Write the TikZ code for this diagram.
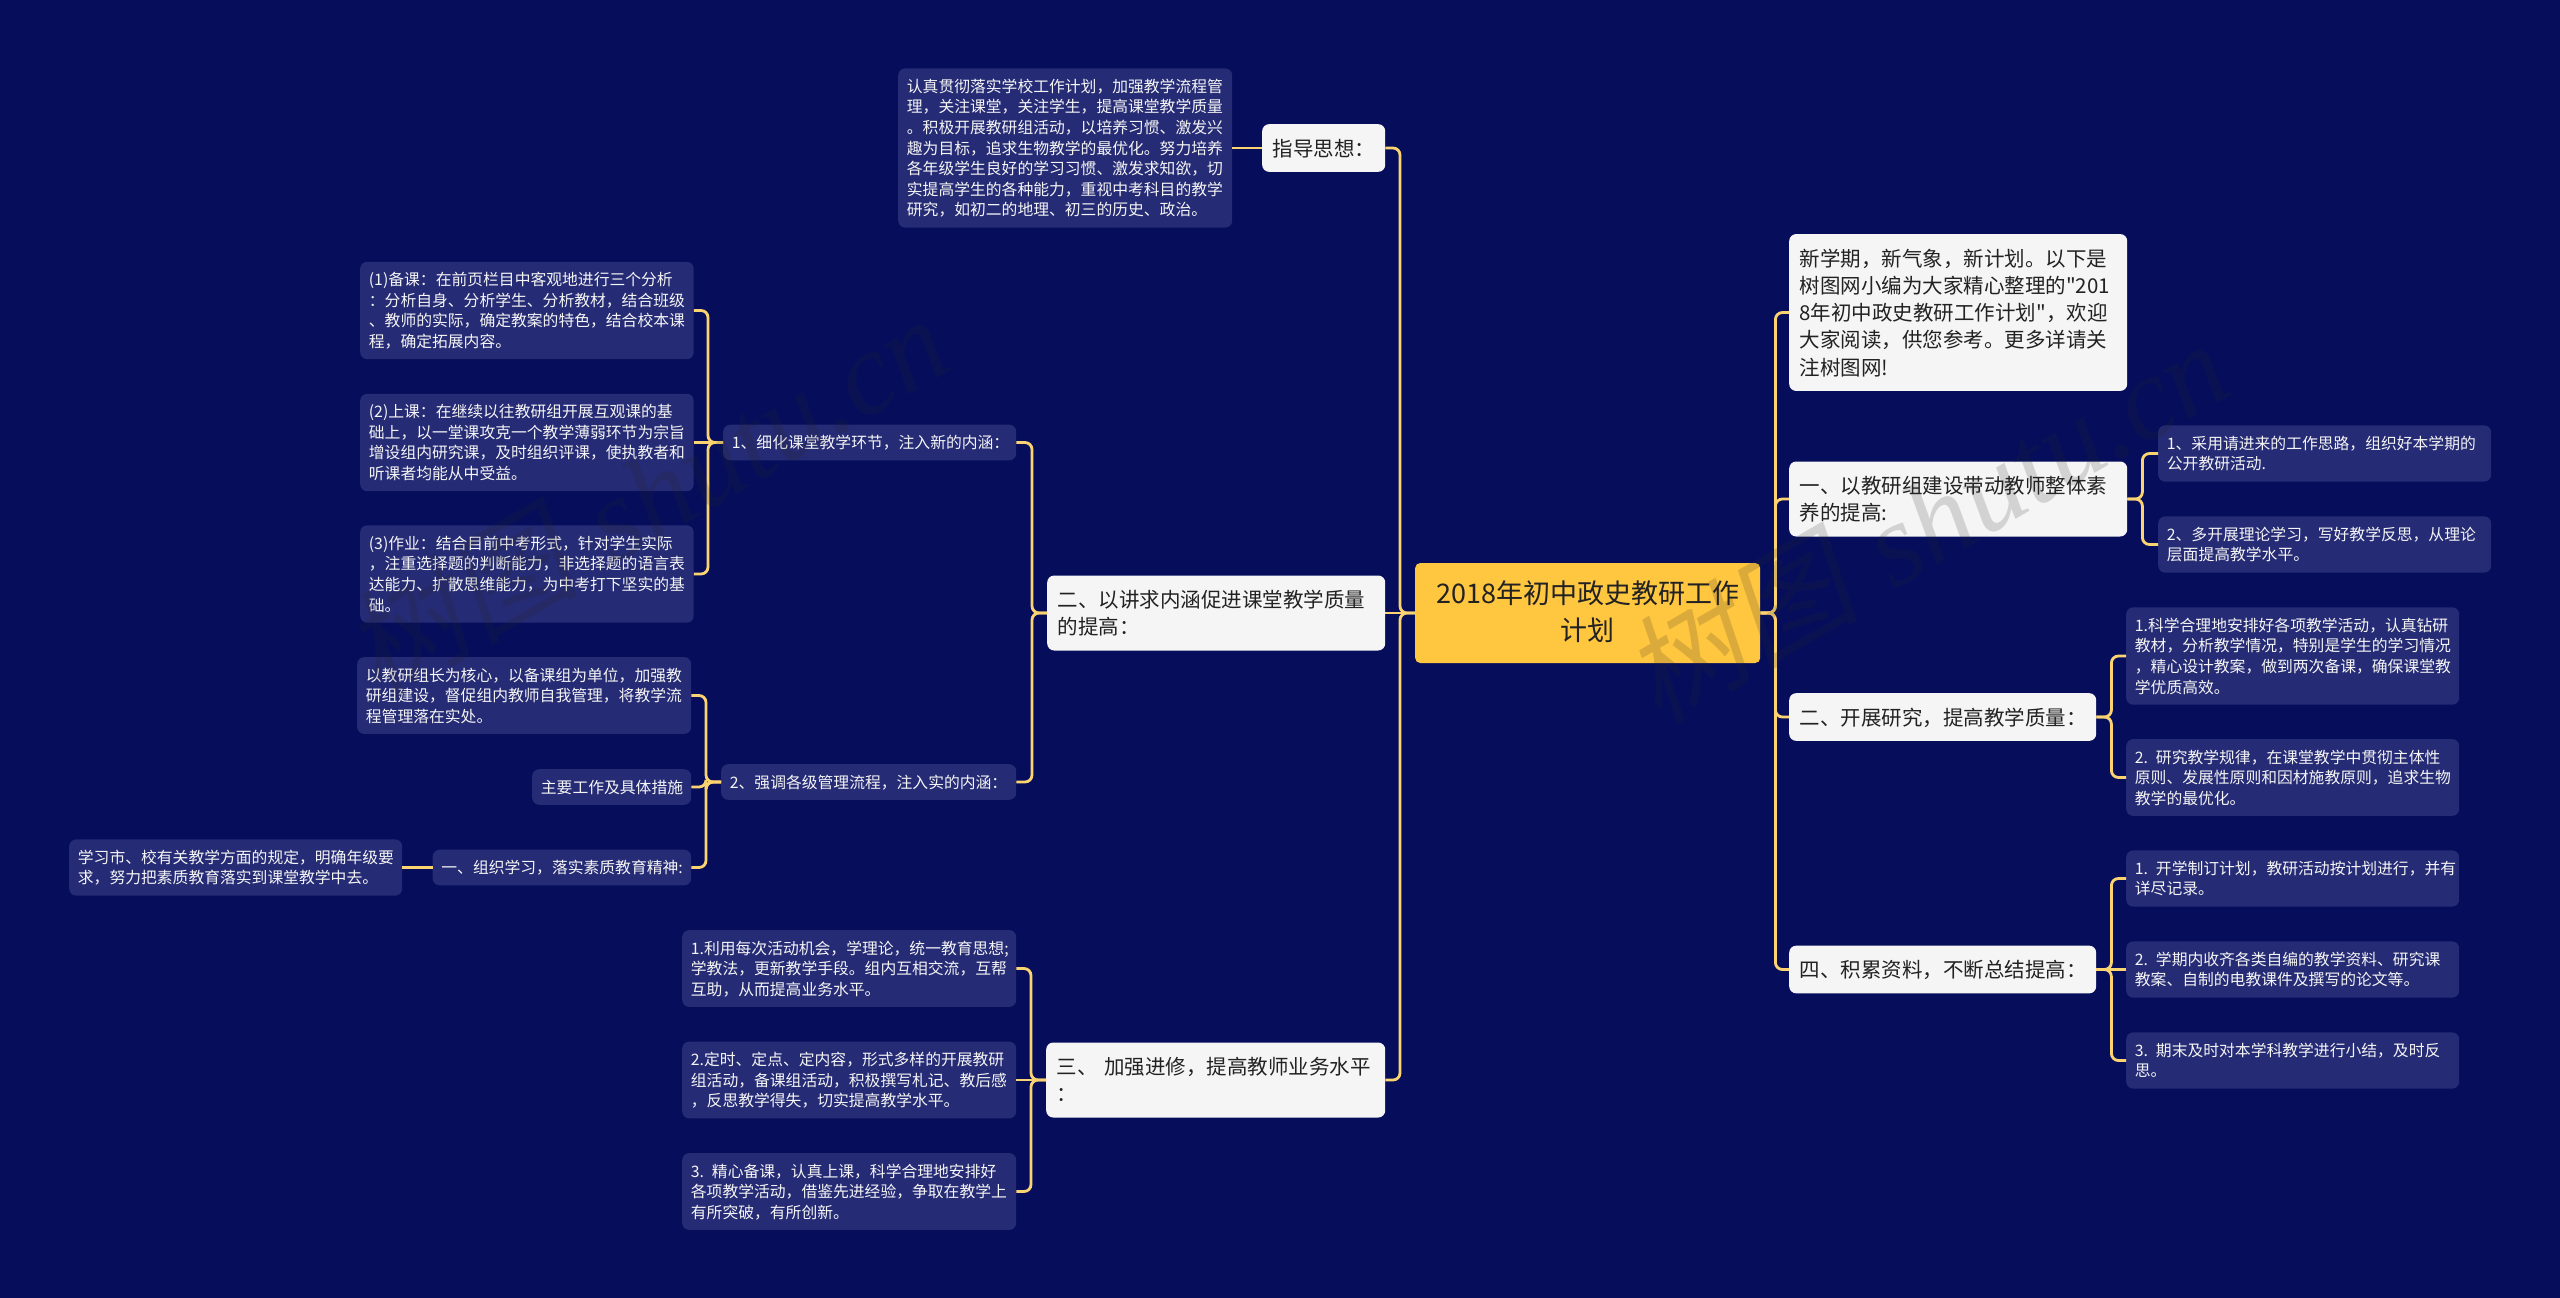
\documentclass[tikz,border=0pt]{standalone}
\usepackage{fontspec}
\newfontfamily\cjk{Noto Sans CJK SC}
\newfontfamily\markcjk[FakeSlant=0.2]{Noto Sans CJK SC}
\newfontfamily\marklatin{Liberation Serif}
\usepackage{tikz}
\definecolor{bgnavy}{HTML}{060E5C}
\definecolor{leafblue}{HTML}{252B75}
\definecolor{topicwhite}{HTML}{F5F5F5}
\definecolor{rootyellow}{HTML}{FFC640}
\definecolor{linkyellow}{HTML}{FBD370}
\definecolor{inkdark}{HTML}{222222}
\tikzset{
  rootbox/.style={anchor=west,fill=rootyellow,text=inkdark,rounded corners=5pt,align=center,inner xsep=10pt,inner ysep=13pt,font=\cjk\fontsize{27}{37}\selectfont},
  topicbox/.style={anchor=west,fill=topicwhite,text=inkdark,rounded corners=7pt,align=left,inner xsep=10.4pt,inner ysep=10.2pt,font=\cjk\fontsize{20.5}{27.3}\selectfont},
  leafbox/.style={anchor=west,fill=leafblue,text=topicwhite,rounded corners=7pt,align=left,inner xsep=8.7pt,inner ysep=7.5pt,font=\cjk\fontsize{15.8}{20.6}\selectfont},
  linkline/.style={draw=linkyellow,line width=2.8pt,rounded corners=7pt},
  markfont/.style={text=black!85,text opacity=0.17,font=\fontsize{118}{118}\selectfont,inner sep=0pt}
}
\newcommand{\linestrut}{\rule[-.2\baselineskip]{0pt}{\baselineskip}}
\newcommand{\rootstrut}{\rule[-.25\baselineskip]{0pt}{\baselineskip}}
\newcommand{\leafnode}[5]{\node[leafbox,text width=#4pt-17.4pt] (#1) at (#2,#3) {\linestrut #5\linestrut};}
\newcommand{\topicnode}[5]{\node[topicbox,text width=#4pt-20.8pt] (#1) at (#2,#3) {\linestrut #5\linestrut};}
\newcommand{\linkL}[2]{\draw[linkline] (#1.west) -- ++(-15,0) |- (#2.east);}
\newcommand{\linkR}[2]{\draw[linkline] (#1.east) -- ++(15,0) |- (#2.west);}
\newcommand{\linkS}[2]{\draw[linkline] (#1.west) -- (#2.east);}
\newcommand{\linkT}[2]{\draw[linkline] (#1.east) -- (#2.west);}
\newcommand{\marknode}[4]{\node[markfont,rotate=#4] (#1) at (#2,#3) {{\markcjk 树图} {\marklatin\itshape shutu.cn}};}

\begin{document}
\begin{tikzpicture}[x=1pt,y=-1pt]
    \useasboundingbox (0,0) rectangle (2560,1298);
    \fill[bgnavy] (0,0) rectangle (2560,1298);

    % root
    \node[rootbox,text width=325pt] (root) at (1415,613) {\rootstrut 2018年初中政史教研工作\\计划\rootstrut};

    % left topics
    \topicnode{guide}{1262}{148}{123}{指导思想：}
    \topicnode{inner}{1047}{613}{338}{二、以讲求内涵促进课堂教学质量\\的提高：}
    \topicnode{study}{1046}{1080}{339}{三、 加强进修，提高教师业务水平\\：}

    \leafnode{guidetext}{898}{148}{334}{认真贯彻落实学校工作计划，加强教学流程管\\理，关注课堂，关注学生，提高课堂教学质量\\。积极开展教研组活动，以培养习惯、激发兴\\趣为目标，追求生物教学的最优化。努力培养\\各年级学生良好的学习习惯、激发求知欲，切\\实提高学生的各种能力，重视中考科目的教学\\研究，如初二的地理、初三的历史、政治。}

    \leafnode{detail}{723}{442.5}{293}{1、细化课堂教学环节，注入新的内涵：}
    \leafnode{prepare}{360}{310.5}{333.5}{(1)备课：在前页栏目中客观地进行三个分析\\：分析自身、分析学生、分析教材，结合班级\\、教师的实际，确定教案的特色，结合校本课\\程，确定拓展内容。}
    \leafnode{lecture}{360}{442.5}{333.5}{(2)上课：在继续以往教研组开展互观课的基\\础上，以一堂课攻克一个教学薄弱环节为宗旨\\增设组内研究课，及时组织评课，使执教者和\\听课者均能从中受益。}
    \leafnode{homework}{360}{574}{333.5}{(3)作业：结合目前中考形式，针对学生实际\\，注重选择题的判断能力，非选择题的语言表\\达能力、扩散思维能力，为中考打下坚实的基\\础。}

    \leafnode{manage}{721}{782}{295}{2、强调各级管理流程，注入实的内涵：}
    \leafnode{core}{357}{695.5}{334}{以教研组长为核心，以备课组为单位，加强教\\研组建设，督促组内教师自我管理，将教学流\\程管理落在实处。}
    \leafnode{mainwork}{532}{787}{159}{主要工作及具体措施}
    \leafnode{organize}{432.5}{867.5}{258.5}{一、组织学习，落实素质教育精神:}
    \leafnode{rules}{69}{867.5}{333}{学习市、校有关教学方面的规定，明确年级要\\求，努力把素质教育落实到课堂教学中去。}

    \leafnode{studya}{682}{968.5}{334}{1.利用每次活动机会，学理论，统一教育思想;\\学教法，更新教学手段。组内互相交流，互帮\\互助，从而提高业务水平。}
    \leafnode{studyb}{682}{1080}{334}{2.定时、定点、定内容，形式多样的开展教研\\组活动，备课组活动，积极撰写札记、教后感\\，反思教学得失，切实提高教学水平。}
    \leafnode{studyc}{682}{1191.5}{334}{3. 精心备课，认真上课，科学合理地安排好\\各项教学活动，借鉴先进经验，争取在教学上\\有所突破，有所创新。}

    % right topics
    \topicnode{intro}{1789}{312.5}{338}{新学期，新气象，新计划。以下是\\树图网小编为大家精心整理的"201\\8年初中政史教研工作计划"，欢迎\\大家阅读，供您参考。更多详请关\\注树图网!}
    \topicnode{team}{1789}{499}{338}{一、以教研组建设带动教师整体素\\养的提高:}
    \topicnode{research}{1789}{717}{307}{二、开展研究，提高教学质量：}
    \topicnode{collect}{1789}{969.5}{307}{四、积累资料，不断总结提高：}

    \leafnode{teama}{2158}{453.5}{333}{1、采用请进来的工作思路，组织好本学期的\\公开教研活动.}
    \leafnode{teamb}{2158}{544.5}{333}{2、多开展理论学习，写好教学反思，从理论\\层面提高教学水平。}
    \leafnode{researcha}{2126}{656}{333}{1.科学合理地安排好各项教学活动，认真钻研\\教材，分析教学情况，特别是学生的学习情况\\，精心设计教案，做到两次备课，确保课堂教\\学优质高效。}
    \leafnode{researchb}{2126}{777.5}{333}{2. 研究教学规律，在课堂教学中贯彻主体性\\原则、发展性原则和因材施教原则，追求生物\\教学的最优化。}
    \leafnode{collecta}{2126}{878.5}{333}{1. 开学制订计划，教研活动按计划进行，并有\\详尽记录。}
    \leafnode{collectb}{2126}{969.5}{333}{2. 学期内收齐各类自编的教学资料、研究课\\教案、自制的电教课件及撰写的论文等。}
    \leafnode{collectc}{2126}{1060.5}{333}{3. 期末及时对本学科教学进行小结，及时反\\思。}

    % links
    \linkL{root}{guide}
    \linkS{root}{inner}
    \linkL{root}{study}
    \linkS{guide}{guidetext}
    \linkL{inner}{detail}
    \linkL{inner}{manage}
    \linkL{detail}{prepare}
    \linkS{detail}{lecture}
    \linkL{detail}{homework}
    \linkL{manage}{core}
    \linkL{manage}{mainwork}
    \linkL{manage}{organize}
    \linkS{organize}{rules}
    \linkL{study}{studya}
    \linkS{study}{studyb}
    \linkL{study}{studyc}

    \linkR{root}{intro}
    \linkR{root}{team}
    \linkR{root}{research}
    \linkR{root}{collect}
    \linkR{team}{teama}
    \linkR{team}{teamb}
    \linkR{research}{researcha}
    \linkR{research}{researchb}
    \linkR{collect}{collecta}
    \linkT{collect}{collectb}
    \linkR{collect}{collectc}

    % watermarks
    \marknode{markleft}{645}{495}{30}
    \marknode{markright}{1925}{520}{30}

\end{tikzpicture}
\end{document}
